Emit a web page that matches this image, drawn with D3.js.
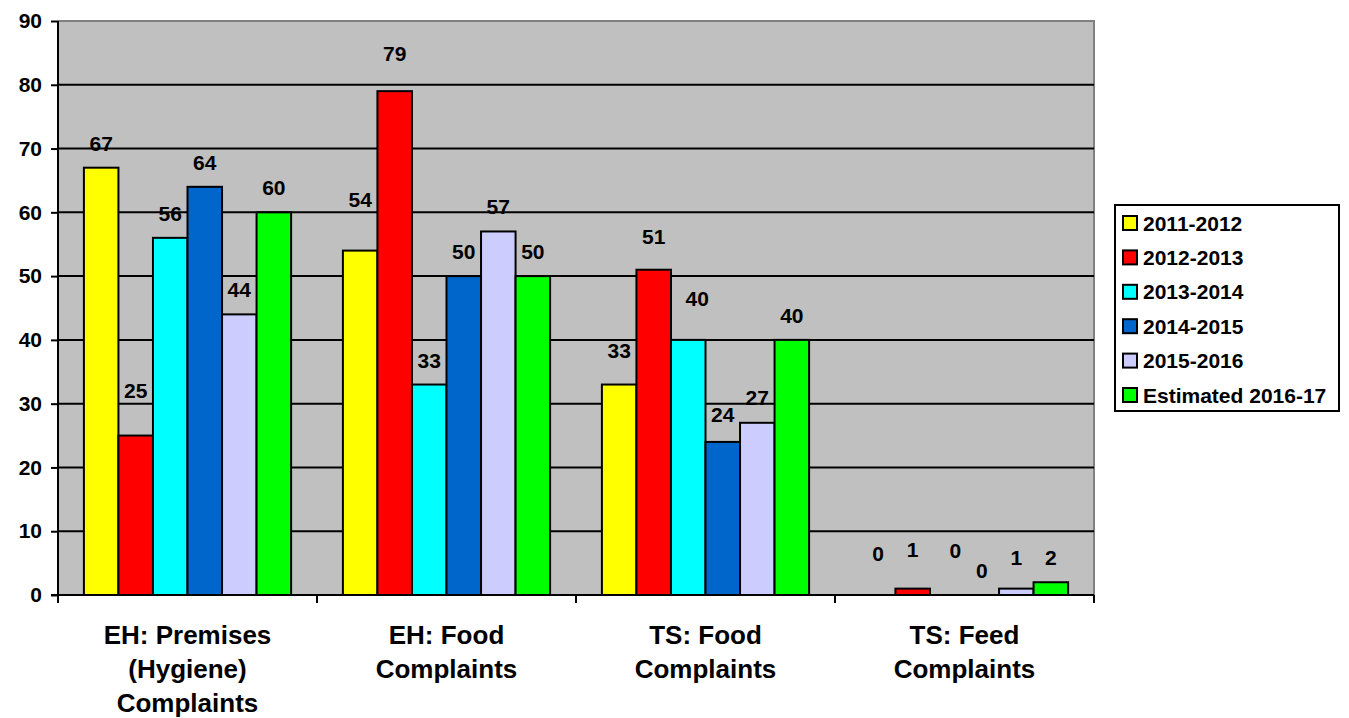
<!DOCTYPE html>
<html>
<head>
<meta charset="utf-8">
<script src="https://cdn.jsdelivr.net/npm/d3@7"></script>
<style>
  body { margin: 0; background: #fff; }
  text { font-family: "Liberation Sans", Arial, sans-serif; font-weight: bold; fill: #000; }
</style>
</head>
<body>
<svg id="chart" width="1349" height="718"></svg>
<script>
// complaints per year, grouped by complaint type
const categories = [
  ["EH: Premises", "(Hygiene)", "Complaints"],
  ["EH: Food", "Complaints"],
  ["TS: Food", "Complaints"],
  ["TS: Feed", "Complaints"]
];
const seriesNames = ["2011-2012", "2012-2013", "2013-2014", "2014-2015", "2015-2016", "Estimated 2016-17"];
const seriesColors = ["#FFFF00", "#FF0000", "#00FFFF", "#0066CC", "#CCCCFF", "#00FF00"];
// values[series][category]
const values = [
  [67, 54, 33, 0],
  [25, 79, 51, 1],
  [56, 33, 40, 0],
  [64, 50, 24, 0],
  [44, 57, 27, 1],
  [60, 50, 40, 2]
];
const yTicks = [0, 10, 20, 30, 40, 50, 60, 70, 80, 90];

// extra lift / shift (px) the original applied to some value labels to dodge overlaps
const labelLift = [
  [0, 27, 10, 17],
  [21, 13, 9, 15],
  [0, 0, 17, 20],
  [0, 0, 3, 0],
  [0, 0, 1, 7],
  [0, 0, 0, 0]
];
const labelShift = [
  [0, 0, 0, 0],
  [0, 0, 0, 0],
  [0, 0, 9, 8],
  [0, 0, 0, 0],
  [0, 0, 0, 0],
  [0, 0, 0, 0]
];

const plot = { left: 58, top: 21, right: 1094, bottom: 595 };
const svg = d3.select("#chart");

const x0 = d3.scaleBand().domain(d3.range(categories.length)).range([plot.left, plot.right]);
const x1 = d3.scaleBand().domain(d3.range(seriesNames.length)).range([0, x0.bandwidth()]).paddingOuter(0.75);
const y = d3.scaleLinear().domain([0, 90]).range([plot.bottom, plot.top]);

// plot background + gray frame on top/right
svg.append("rect").attr("x", plot.left).attr("y", plot.top)
  .attr("width", plot.right - plot.left).attr("height", plot.bottom - plot.top)
  .attr("fill", "#C0C0C0");
svg.append("path")
  .attr("d", `M${plot.left},${plot.top}H${plot.right}V${plot.bottom}`)
  .attr("fill", "none").attr("stroke", "#808080").attr("stroke-width", 2);

// gridlines
svg.append("g").selectAll("line").data(yTicks.filter((t) => t > 0 && t < 90)).join("line")
  .attr("x1", plot.left).attr("x2", plot.right)
  .attr("y1", (d) => y(d)).attr("y2", (d) => y(d))
  .attr("stroke", "#000").attr("stroke-width", 2);

// y axis
const gy = svg.append("g").attr("transform", `translate(${plot.left},0)`)
  .call(d3.axisLeft(y).tickValues(yTicks).tickSize(7).tickPadding(9));
gy.select(".domain").remove();
gy.selectAll(".tick line").attr("stroke", "#000").attr("stroke-width", 2);
gy.selectAll(".tick text").attr("font-size", 21).attr("font-family", null).attr("fill", "#000");

// bars
const groups = svg.append("g").selectAll("g").data(values).join("g")
  .attr("fill", (d, i) => seriesColors[i]);
groups.selectAll("rect").data((row, si) => row.map((v, ci) => ({ v, ci, si }))).join("rect")
  .attr("x", (d) => x0(d.ci) + x1(d.si))
  .attr("y", (d) => y(d.v))
  .attr("width", x1.bandwidth())
  .attr("height", (d) => y(0) - y(d.v))
  .attr("stroke", "#000").attr("stroke-width", 2);

// value labels
groups.selectAll("text").data((row, si) => row.map((v, ci) => ({ v, ci, si }))).join("text")
  .attr("x", (d) => x0(d.ci) + x1(d.si) + x1.bandwidth() / 2 + labelShift[d.si][d.ci])
  .attr("y", (d) => y(d.v) - 17 - labelLift[d.si][d.ci])
  .attr("text-anchor", "middle").attr("font-size", 21)
  .text((d) => d.v);

// x axis line + boundary ticks
svg.append("line").attr("x1", plot.left - 7).attr("x2", plot.right)
  .attr("y1", plot.bottom).attr("y2", plot.bottom)
  .attr("stroke", "#000").attr("stroke-width", 2);
svg.append("line").attr("x1", plot.left).attr("x2", plot.left)
  .attr("y1", plot.top).attr("y2", plot.bottom)
  .attr("stroke", "#000").attr("stroke-width", 2);
const bounds = d3.range(categories.length + 1).map((i) => i < categories.length ? x0(i) : plot.right);
svg.append("g").selectAll("line").data(bounds).join("line")
  .attr("x1", (d) => d).attr("x2", (d) => d)
  .attr("y1", plot.bottom).attr("y2", plot.bottom + 8)
  .attr("stroke", "#000").attr("stroke-width", 2);

// category labels
svg.append("g").selectAll("text").data(categories).join("text")
  .attr("text-anchor", "middle").attr("font-size", 26)
  .each(function (lines, i) {
    d3.select(this).selectAll("tspan").data(lines).join("tspan")
      .attr("x", x0(i) + x0.bandwidth() / 2)
      .attr("y", (d, j) => 644 + j * 34)
      .text((d) => d);
  });

// legend
const lg = svg.append("g").attr("transform", "translate(1115,205)");
lg.append("rect").attr("width", 224).attr("height", 206)
  .attr("fill", "#fff").attr("stroke", "#000").attr("stroke-width", 2);
const items = lg.selectAll("g").data(seriesNames).join("g")
  .attr("transform", (d, i) => `translate(8,${18 + i * 34.4})`);
items.append("rect").attr("x", 0).attr("y", -7).attr("width", 14).attr("height", 14)
  .attr("fill", (d, i) => seriesColors[i]).attr("stroke", "#000").attr("stroke-width", 2);
items.append("text").attr("x", 20).attr("y", 7.5).attr("font-size", 21).text((d) => d);
</script>
</body>
</html>
